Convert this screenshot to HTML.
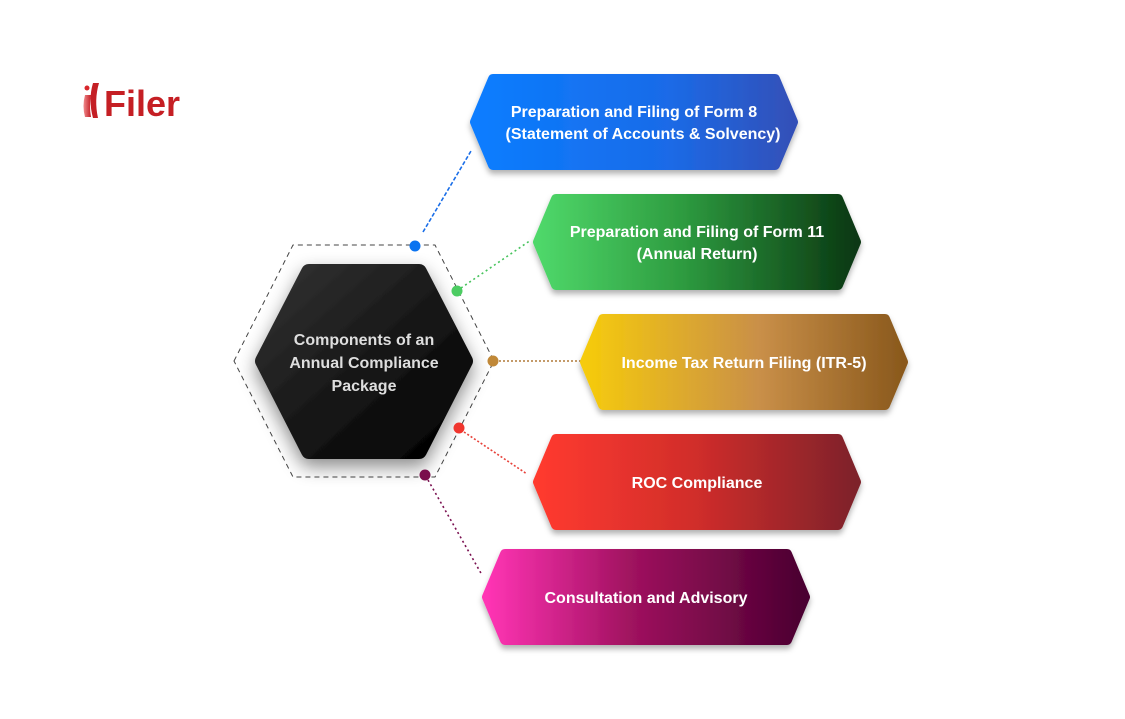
<!DOCTYPE html>
<html><head><meta charset="utf-8"><style>
html,body{margin:0;padding:0;background:#fff;}
svg{display:block;}
text{font-family:"Liberation Sans",sans-serif;font-weight:bold;}
</style></head><body>
<svg width="1125" height="719" viewBox="0 0 1125 719" xmlns="http://www.w3.org/2000/svg">
<defs>
<linearGradient id="g1" x1="0" x2="1"><stop offset="0" stop-color="#0a7dff"/><stop offset="0.6" stop-color="#1a6be8"/><stop offset="1" stop-color="#3350b8"/></linearGradient>
<linearGradient id="g2" x1="0" x2="1"><stop offset="0" stop-color="#4fd86a"/><stop offset="0.45" stop-color="#2e9c40"/><stop offset="1" stop-color="#0a3812"/></linearGradient>
<linearGradient id="g3" x1="0" x2="1"><stop offset="0" stop-color="#f6cb0c"/><stop offset="0.55" stop-color="#c98f48"/><stop offset="1" stop-color="#8a591d"/></linearGradient>
<linearGradient id="g4" x1="0" x2="1"><stop offset="0" stop-color="#ff3a2f"/><stop offset="0.5" stop-color="#d02d2b"/><stop offset="1" stop-color="#7e2229"/></linearGradient>
<linearGradient id="g5" x1="0" x2="1"><stop offset="0" stop-color="#ff34b4"/><stop offset="0.45" stop-color="#a0125f"/><stop offset="1" stop-color="#4a0030"/></linearGradient>
<linearGradient id="gc" x1="0" y1="0" x2="1" y2="1"><stop offset="0" stop-color="#333"/><stop offset="0.5" stop-color="#181818"/><stop offset="1" stop-color="#000"/></linearGradient>
<linearGradient id="lg" x1="0" x2="1"><stop offset="0" stop-color="#f08a8d"/><stop offset="1" stop-color="#c41f25"/></linearGradient>
<filter id="sh" x="-20%" y="-20%" width="140%" height="150%"><feDropShadow dx="0" dy="4" stdDeviation="3" flood-color="#000" flood-opacity="0.3"/></filter>
<filter id="shc" x="-30%" y="-30%" width="160%" height="160%"><feDropShadow dx="0" dy="8" stdDeviation="9" flood-color="#000" flood-opacity="0.45"/></filter>
</defs>

<!-- logo -->
<circle cx="87" cy="88" r="2.5" fill="#d8262b"/>
<path d="M85 95 Q82 106 85 117 L91 117 Q89 106 91 95 Z" fill="url(#lg)"/>
<path d="M93 83 Q88 100 93 118 L98 118 Q94 100 99 83 Z" fill="#c41f25"/>
<text x="104" y="116" font-size="36" fill="#c51f24">Filer</text>

<!-- connectors -->
<g fill="none" stroke-width="1.6">
<line x1="423" y1="232" x2="471" y2="151" stroke="#1a6ee8" stroke-dasharray="4,2"/>
<line x1="461" y1="288" x2="531" y2="240" stroke="#46c35c" stroke-dasharray="2,3"/>
<line x1="499" y1="361" x2="581" y2="361" stroke="#b07a38" stroke-dasharray="2,2"/>
<line x1="464" y1="432" x2="527" y2="474" stroke="#e8423a" stroke-dasharray="2,2"/>
<line x1="428" y1="480" x2="482" y2="575" stroke="#7a1050" stroke-dasharray="2,3"/>
</g>

<!-- dashed outer hex -->
<polygon points="234,361 293,245 435,245 494,361 435,477 293,477" fill="none" stroke="#444" stroke-width="1" stroke-dasharray="5,4" stroke-linejoin="round"/>

<!-- center hex -->
<polygon points="263,361 309,272 419,272 465,361 419,451 309,451" fill="url(#gc)" stroke="url(#gc)" stroke-width="16" stroke-linejoin="round" filter="url(#shc)"/>
<g fill="#dedede" font-size="16" text-anchor="middle">
<text x="364" y="345">Components of an</text>
<text x="364" y="368">Annual Compliance</text>
<text x="364" y="391">Package</text>
</g>

<!-- dots -->
<circle cx="415" cy="246" r="5.5" fill="#0a73f0"/>
<circle cx="457" cy="291" r="5.5" fill="#4ccc62"/>
<circle cx="493" cy="361" r="5.5" fill="#c08838"/>
<circle cx="459" cy="428" r="5.5" fill="#f0362e"/>
<circle cx="425" cy="475" r="5.5" fill="#7a0e4c"/>

<!-- boxes -->
<g stroke-width="10" stroke-linejoin="round" filter="url(#sh)">
<polygon points="475,122 493,79 775,79 793,122 775,165 493,165" fill="url(#g1)" stroke="url(#g1)"/>
<polygon points="538,242 556,199 838,199 856,242 838,285 556,285" fill="url(#g2)" stroke="url(#g2)"/>
<polygon points="585,362 603,319 885,319 903,362 885,405 603,405" fill="url(#g3)" stroke="url(#g3)"/>
<polygon points="538,482 556,439 838,439 856,482 838,525 556,525" fill="url(#g4)" stroke="url(#g4)"/>
<polygon points="487,597 505,554 787,554 805,597 787,640 505,640" fill="url(#g5)" stroke="url(#g5)"/>
</g>
<g fill="#fff" font-size="16" text-anchor="middle">
<text x="634" y="117">Preparation and Filing of Form 8</text>
<text x="643" y="139">(Statement of Accounts &amp; Solvency)</text>
<text x="697" y="237">Preparation and Filing of Form 11</text>
<text x="697" y="259">(Annual Return)</text>
<text x="744" y="368">Income Tax Return Filing (ITR-5)</text>
<text x="697" y="488">ROC Compliance</text>
<text x="646" y="603">Consultation and Advisory</text>
</g>
</svg>
</body></html>
